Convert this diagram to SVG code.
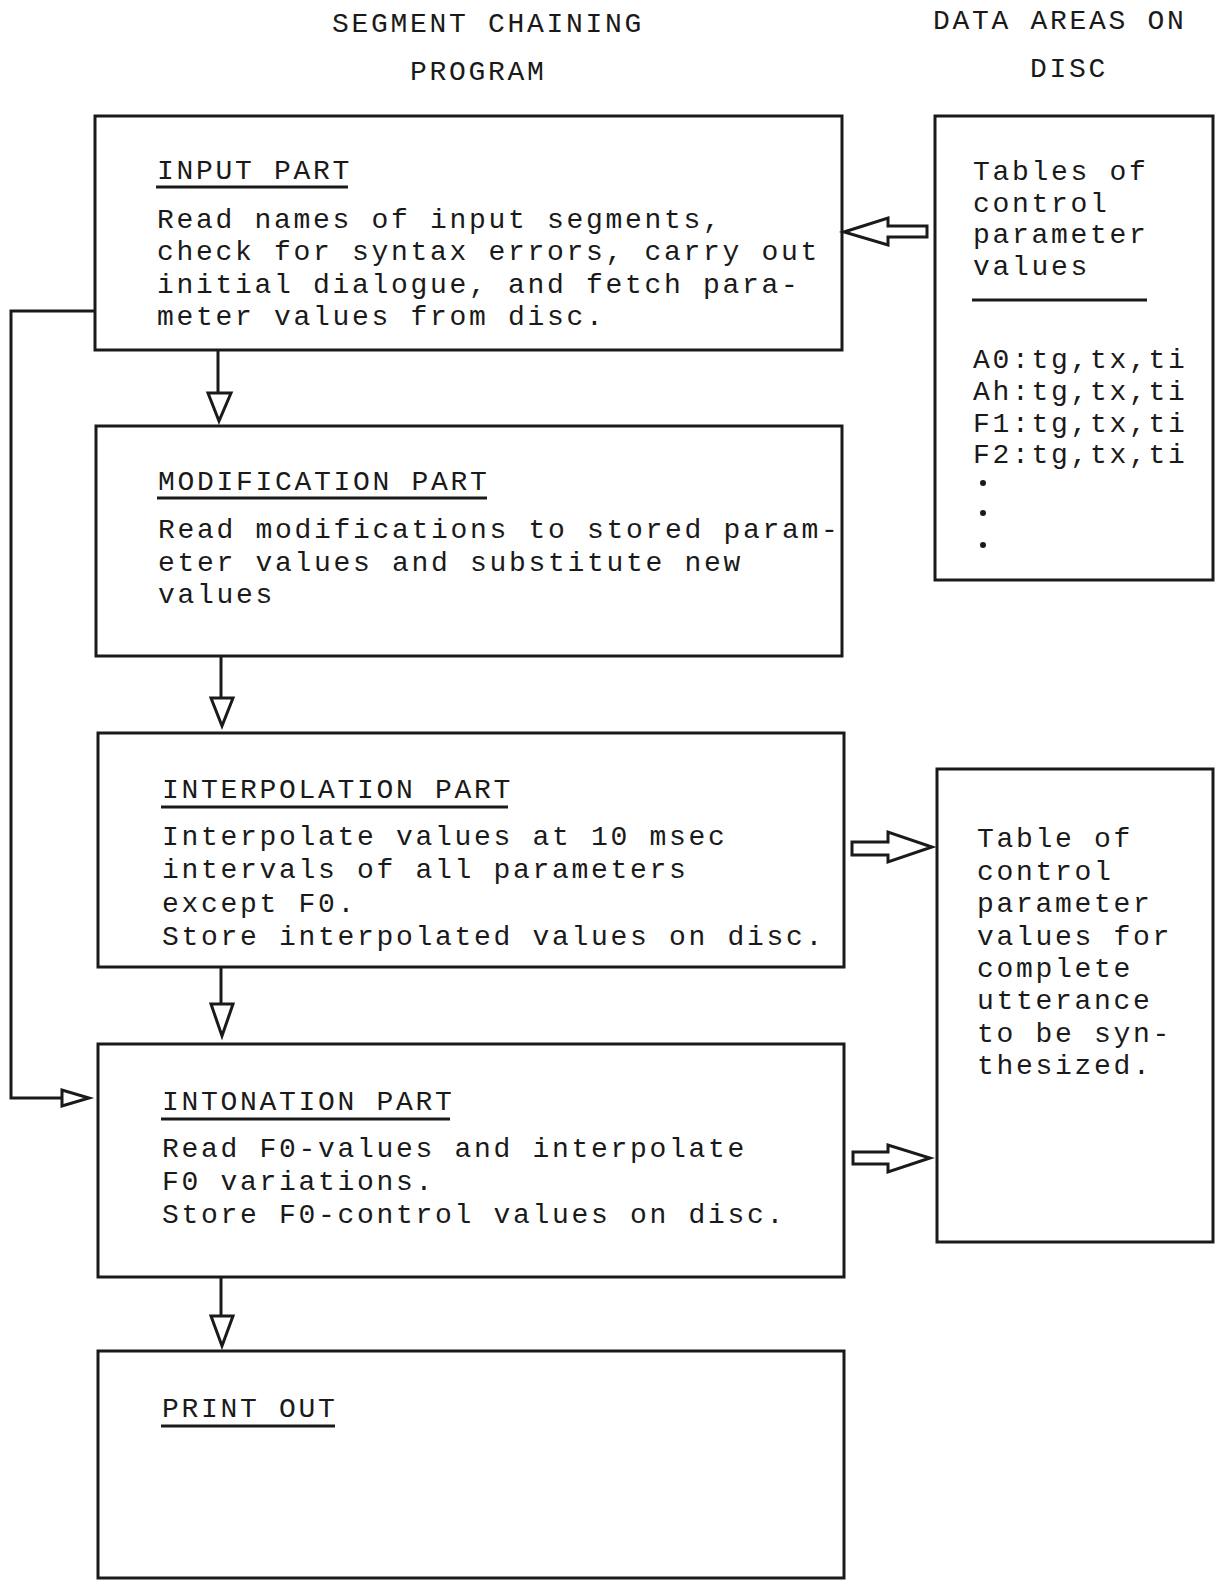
<svg xmlns="http://www.w3.org/2000/svg" width="1215" height="1580" viewBox="0 0 1215 1580">
<style>
.box{fill:none;stroke:#1a1a1a;stroke-width:3}
.t{font-family:"Liberation Mono","Courier New",monospace;font-size:28px;letter-spacing:2.7px;fill:#1a1a1a}
.ln{fill:none;stroke:#1a1a1a;stroke-width:3}
.ha{fill:#fff;stroke:#1a1a1a;stroke-width:3;stroke-linejoin:miter}
</style>
<rect width="1215" height="1580" fill="#fff"/>
<g id="titles">
<text class="t" x="332" y="32">SEGMENT CHAINING</text>
<text class="t" x="410" y="80">PROGRAM</text>
<text class="t" x="933" y="29">DATA AREAS ON</text>
<text class="t" x="1030" y="77">DISC</text>
</g>
<g id="input-part">
<rect class="box" x="95" y="116" width="747" height="234"/>
<text class="t" x="157" y="179">INPUT PART</text>
<line class="ln" x1="156" y1="187" x2="348" y2="187"/>
<text class="t" x="157" y="228">Read names of input segments,</text>
<text class="t" x="157" y="260">check for syntax errors, carry out</text>
<text class="t" x="157" y="293">initial dialogue, and fetch para-</text>
<text class="t" x="157" y="325">meter values from disc.</text>
</g>
<g id="modification-part">
<rect class="box" x="96" y="426" width="746" height="230"/>
<text class="t" x="158" y="490">MODIFICATION PART</text>
<line class="ln" x1="157" y1="498" x2="487" y2="498"/>
<text class="t" x="158" y="538">Read modifications to stored param-</text>
<text class="t" x="158" y="571">eter values and substitute new</text>
<text class="t" x="158" y="603">values</text>
</g>
<g id="interpolation-part">
<rect class="box" x="98" y="733" width="746" height="234"/>
<text class="t" x="162" y="798">INTERPOLATION PART</text>
<line class="ln" x1="161" y1="807" x2="508" y2="807"/>
<text class="t" x="162" y="845">Interpolate values at 10 msec</text>
<text class="t" x="162" y="878">intervals of all parameters</text>
<text class="t" x="162" y="912">except F0.</text>
<text class="t" x="162" y="945">Store interpolated values on disc.</text>
</g>
<g id="intonation-part">
<rect class="box" x="98" y="1044" width="746" height="233"/>
<text class="t" x="162" y="1110">INTONATION PART</text>
<line class="ln" x1="161" y1="1119" x2="450" y2="1119"/>
<text class="t" x="162" y="1157">Read F0-values and interpolate</text>
<text class="t" x="162" y="1190">F0 variations.</text>
<text class="t" x="162" y="1223">Store F0-control values on disc.</text>
</g>
<g id="print-out">
<rect class="box" x="98" y="1351" width="746" height="227"/>
<text class="t" x="162" y="1417">PRINT OUT</text>
<line class="ln" x1="161" y1="1426" x2="335" y2="1426"/>
</g>
<g id="tables-disc">
<rect class="box" x="935" y="116" width="278" height="464"/>
<text class="t" x="973" y="180">Tables of</text>
<text class="t" x="973" y="212">control</text>
<text class="t" x="973" y="243">parameter</text>
<text class="t" x="973" y="275">values</text>
<line class="ln" x1="972" y1="300" x2="1147" y2="300"/>
<text class="t" x="973" y="368">A0:tg,tx,ti</text>
<text class="t" x="973" y="400">Ah:tg,tx,ti</text>
<text class="t" x="973" y="432">F1:tg,tx,ti</text>
<text class="t" x="973" y="463">F2:tg,tx,ti</text>
<circle cx="983" cy="483" r="3" fill="#1a1a1a"/>
<circle cx="983" cy="513" r="3" fill="#1a1a1a"/>
<circle cx="983" cy="545" r="3" fill="#1a1a1a"/>
</g>
<g id="table-utterance">
<rect class="box" x="937" y="769" width="276" height="473"/>
<text class="t" x="977" y="847">Table of</text>
<text class="t" x="977" y="880">control</text>
<text class="t" x="977" y="912">parameter</text>
<text class="t" x="977" y="945">values for</text>
<text class="t" x="977" y="977">complete</text>
<text class="t" x="977" y="1009">utterance</text>
<text class="t" x="977" y="1042">to be syn-</text>
<text class="t" x="977" y="1074">thesized.</text>
</g>
<g id="connectors">
<line class="ln" x1="218" y1="350" x2="218" y2="393"/>
<polygon class="ha" points="208,393 231,393 219,421"/>
<line class="ln" x1="221" y1="656" x2="221" y2="698"/>
<polygon class="ha" points="211,698 233,698 222,726"/>
<line class="ln" x1="221" y1="967" x2="221" y2="1004"/>
<polygon class="ha" points="211,1004 233,1004 222,1036"/>
<line class="ln" x1="221" y1="1277" x2="221" y2="1316"/>
<polygon class="ha" points="211,1316 233,1316 222,1346"/>
<polyline class="ln" points="95,311 11,311 11,1098 62,1098"/>
<polygon class="ha" points="62,1090 62,1106 89,1098"/>
<polygon class="ha" points="844,232 888,218 888,226 927,226 927,237 888,237 888,245"/>
<polygon class="ha" points="852,842 888,842 888,832 932,847 888,862 888,855 852,855"/>
<polygon class="ha" points="853,1152 888,1152 888,1145 930,1158 888,1172 888,1164 853,1164"/>
</g>
</svg>
